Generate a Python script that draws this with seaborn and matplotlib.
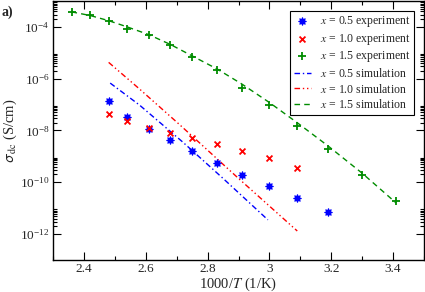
import matplotlib
matplotlib.use('Agg')
import matplotlib.pyplot as plt
import matplotlib.ticker as mticker
import numpy as np
import pandas as pd
import seaborn as sns

# ---------------- data (log10 of sigma_dc) ----------------
x05_exp_T = [2.48, 2.54, 2.61, 2.68, 2.75, 2.83, 2.91, 3.00, 3.09, 3.19]
x05_exp_log = [-6.88, -7.48, -7.95, -8.36, -8.79, -9.24, -9.71, -10.14, -10.62, -11.16]

x10_exp_T = [2.48, 2.54, 2.61, 2.68, 2.75, 2.83, 2.91, 3.00, 3.09]
x10_exp_log = [-7.37, -7.63, -7.90, -8.10, -8.30, -8.52, -8.80, -9.08, -9.43]

x15_exp_T = [2.36, 2.42, 2.48, 2.54, 2.61, 2.68, 2.75, 2.83, 2.91, 3.00, 3.09, 3.19, 3.30, 3.41]
x15_exp_log = [-3.44, -3.55, -3.77, -4.07, -4.33, -4.71, -5.16, -5.68, -6.34, -7.03, -7.81, -8.72, -9.71, -10.73]

x05_sim_T = [2.485, 2.58, 2.72, 2.85, 2.995]
x05_sim_log = [-6.17, -7.02, -8.45, -9.85, -11.45]

x10_sim_T = [2.48, 2.58, 2.71, 2.90, 3.09]
x10_sim_log = [-5.37, -6.40, -7.78, -9.85, -11.88]

x15_sim_T = [2.36, 2.42, 2.48, 2.54, 2.61, 2.68, 2.75, 2.83, 2.91, 3.00, 3.09, 3.19, 3.30, 3.41]
x15_sim_log = [-3.42, -3.56, -3.76, -4.00, -4.30, -4.68, -5.12, -5.62, -6.20, -6.92, -7.70, -8.60, -9.65, -10.80]

BLUE, RED, GREEN = '#0000ff', '#ff0000', '#008c00'

sns.set_style('ticks')
plt.rcParams['font.family'] = ['Liberation Serif', 'DejaVu Serif']
plt.rcParams['mathtext.fontset'] = 'stix'

fig = plt.figure(figsize=(4.25, 2.92), dpi=100)
ax = fig.add_axes([0.1247, 0.1096, 0.873, 0.887])

def df(T, lg):
    return pd.DataFrame({'T': T, 'sigma': 10.0 ** np.array(lg)})

#--------------experiment points----------------
sns.scatterplot(data=df(x05_exp_T, x05_exp_log), x='T', y='sigma', ax=ax, color=BLUE,
                marker=(8, 1, 0), s=30, linewidth=0.8, edgecolor=BLUE,
                label=r'$x$ = 0.5 experiment', zorder=3)
sns.scatterplot(data=df(x10_exp_T, x10_exp_log), x='T', y='sigma', ax=ax, color=RED,
                marker='x', s=18, linewidth=1.3,
                label=r'$x$ = 1.0 experiment', zorder=3)
sns.scatterplot(data=df(x15_exp_T, x15_exp_log), x='T', y='sigma', ax=ax, color=GREEN,
                marker='+', s=40, linewidth=1.3,
                label=r'$x$ = 1.5 experiment', zorder=3)

#--------------simulation lines----------------
sns.lineplot(data=df(x05_sim_T, x05_sim_log), x='T', y='sigma', ax=ax, color=BLUE,
             lw=1.0, linestyle=(0, (4, 2, 1, 2)), sort=False, estimator=None,
             label=r'$x$ = 0.5 simulation')
sns.lineplot(data=df(x10_sim_T, x10_sim_log), x='T', y='sigma', ax=ax, color=RED,
             lw=1.0, linestyle=(0, (4, 2, 1, 2, 1, 2)), sort=False, estimator=None,
             label=r'$x$ = 1.0 simulation')
sns.lineplot(data=df(x15_sim_T, x15_sim_log), x='T', y='sigma', ax=ax, color=GREEN,
             lw=1.0, linestyle=(0, (4, 3)), sort=False, estimator=None,
             label=r'$x$ = 1.5 simulation')

ax.set_yscale('log')
ax.set_xlim(2.3, 3.5)
ax.set_ylim(1e-13, 1e-3)

ax.xaxis.set_major_locator(mticker.MultipleLocator(0.2))
ax.xaxis.set_minor_locator(mticker.MultipleLocator(0.1))
ax.xaxis.set_major_formatter(mticker.FuncFormatter(lambda v, p: f'{v:g}'))
ax.yaxis.set_major_locator(mticker.FixedLocator([1e-12, 1e-10, 1e-8, 1e-6, 1e-4]))
ax.yaxis.set_major_formatter(mticker.LogFormatterSciNotation())
minors = [k * 10.0 ** e for e in (-14, -12, -10, -8, -6, -4) for k in range(2, 10)]
ax.yaxis.set_minor_locator(mticker.FixedLocator(minors))
ax.yaxis.set_minor_formatter(mticker.NullFormatter())

ax.tick_params(which='both', direction='in', top=True, right=True, labelsize=9.5,
               color='black', width=0.8, pad=2.5)
ax.tick_params(which='major', length=6)
ax.tick_params(which='minor', length=3)
for sp in ax.spines.values():
    sp.set_visible(True)
    sp.set_linewidth(1.0)
    sp.set_color('black')

ax.set_xlabel(r'1000/$T$ (1/K)', fontsize=10.5, labelpad=0)
ax.set_ylabel(r'$\mathsf{\sigma}_{\rm dc}$ (S/cm)', fontsize=10.5, labelpad=1)

fig.text(0.003, 0.945, 'a)', fontsize=10, fontweight='bold')

h, l = ax.get_legend_handles_labels()
order = [r'$x$ = 0.5 experiment', r'$x$ = 1.0 experiment', r'$x$ = 1.5 experiment',
         r'$x$ = 0.5 simulation', r'$x$ = 1.0 simulation', r'$x$ = 1.5 simulation']
hmap = dict(zip(l, h))
leg = ax.legend([hmap[k] for k in order], order, loc='upper right',
                bbox_to_anchor=(0.972, 0.963), borderaxespad=0, fontsize=8.5,
                frameon=True, fancybox=False, edgecolor='black', framealpha=1,
                labelspacing=0.22, handlelength=1.5, handletextpad=0.7,
                borderpad=0.3, scatterpoints=1)
leg.get_frame().set_linewidth(0.8)

fig.savefig('out.png', dpi=100)
